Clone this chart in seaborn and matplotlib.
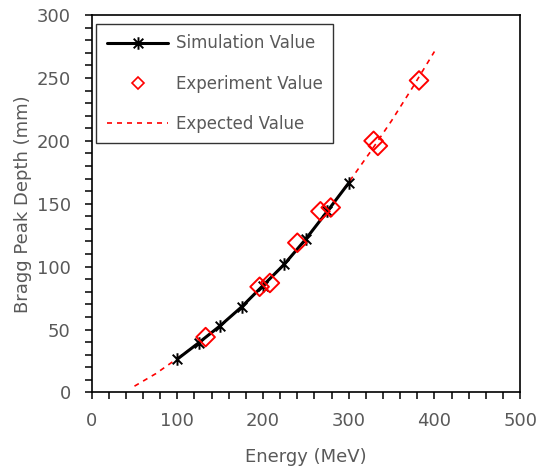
import matplotlib
matplotlib.use('Agg')
import matplotlib.pyplot as plt
from matplotlib.path import Path
from matplotlib.lines import Line2D
from matplotlib.ticker import MultipleLocator
import seaborn as sns
import pandas as pd

# simulation points (black stars + line)
sim_energy = [100, 125, 150, 175, 200, 225, 250, 275, 300]
sim_depth = [26.5, 39.5, 53, 68, 85, 102, 122, 144, 166.5]

# experimental points (open red diamonds)
exp_energy = [133, 196, 208, 240, 267, 279, 329, 334, 382]
exp_depth = [44, 84, 87, 119, 144, 147, 200, 196, 248]

# expected curve (red dashed)
fit_energy = [50, 75, 100, 125, 150, 175, 200, 225, 250, 275, 300, 325, 350, 375, 400]
fit_depth = [5, 15, 27, 39.5, 53, 68, 85, 102.5, 122, 144, 167, 191, 216, 243, 271]

sim = pd.DataFrame({'Energy': sim_energy, 'Depth': sim_depth})
exp = pd.DataFrame({'Energy': exp_energy, 'Depth': exp_depth})
fit = pd.DataFrame({'Energy': fit_energy, 'Depth': fit_depth})

sns.set_style('ticks')
plt.rcParams['font.family'] = ['DejaVu Sans']

grey = '#595959'

# excel-like star: x with a vertical bar
star = Path([(-1, -1), (1, 1), (-1, 1), (1, -1), (0, -1.3), (0, 1.3)],
            [Path.MOVETO, Path.LINETO, Path.MOVETO, Path.LINETO, Path.MOVETO, Path.LINETO])

fig = plt.figure(figsize=(5.39, 4.70), dpi=100)
ax = fig.add_axes([0.170, 0.165, 0.795, 0.803])

sns.lineplot(data=fit, x='Energy', y='Depth', ax=ax, color='red', lw=1.2,
             dashes=False, linestyle=(0, (3, 3)), zorder=2)
sns.lineplot(data=sim, x='Energy', y='Depth', ax=ax, color='black', lw=2.2,
             marker=star, markersize=9, markeredgewidth=1.4, markeredgecolor='black', zorder=3)
sns.scatterplot(data=exp, x='Energy', y='Depth', ax=ax, marker='D', s=90,
                facecolor='none', edgecolor='red', linewidth=1.4, zorder=4)

ax.set_xlim(0, 500)
ax.set_ylim(0, 300)
ax.xaxis.set_major_locator(MultipleLocator(100))
ax.xaxis.set_minor_locator(MultipleLocator(20))
ax.yaxis.set_major_locator(MultipleLocator(50))
ax.yaxis.set_minor_locator(MultipleLocator(10))
ax.tick_params(which='both', direction='out', length=5, width=1.1, color='black',
               labelcolor=grey, labelsize=13)
ax.tick_params(axis='x', pad=9)
ax.tick_params(axis='y', pad=10)
for s in ax.spines.values():
    s.set_visible(True)
    s.set_color('black')
    s.set_linewidth(1.2)

ax.set_xlabel('Energy (MeV)', color=grey, fontsize=13, labelpad=13)
ax.set_ylabel('Bragg Peak Depth (mm)', color=grey, fontsize=13, labelpad=3.5)

handles = [
    Line2D([], [], color='black', lw=2.2, marker=star, markersize=9, markeredgewidth=1.4),
    Line2D([], [], color='none', marker='D', markersize=6, markerfacecolor='none',
           markeredgecolor='red', markeredgewidth=1.2),
    Line2D([], [], color='red', lw=1.2, linestyle=(0, (3, 3))),
]
leg = ax.legend(handles, ['Simulation Value', 'Experiment Value', 'Expected Value'],
                loc='upper left', bbox_to_anchor=(0.011, 0.976), borderaxespad=0,
                fontsize=12, frameon=True, fancybox=False, edgecolor='black',
                handlelength=3.7, labelspacing=1.33, borderpad=0.62, handletextpad=0.45)
leg.get_frame().set_linewidth(1.0)
for t in leg.get_texts():
    t.set_color(grey)

fig.savefig('out.png', dpi=100)
